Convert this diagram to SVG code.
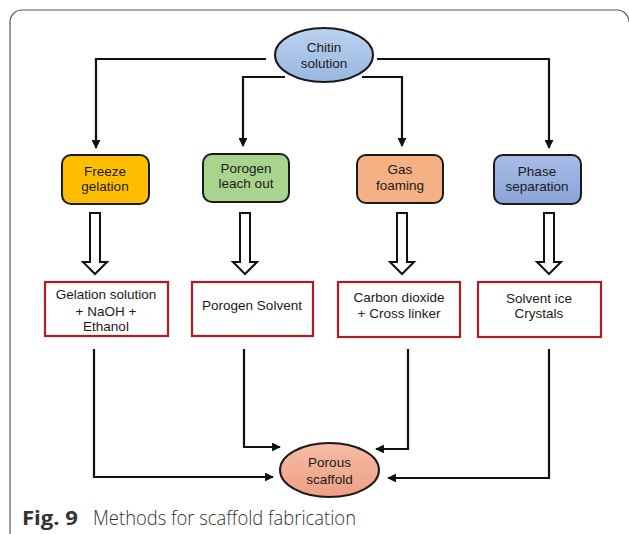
<svg xmlns="http://www.w3.org/2000/svg" width="629" height="534" viewBox="0 0 629 534">
<style>
.t{font-family:"Liberation Sans",Arial,sans-serif;font-size:13.5px;fill:#1a1a1a;text-anchor:middle}
.proc{stroke:#1a1a1a;stroke-width:2}
.res{fill:#fff;stroke:#b01c22;stroke-width:2.2}
.hol{fill:#fff;stroke:#111;stroke-width:2;stroke-linejoin:miter}
.con{fill:none;stroke:#111;stroke-width:2.2}
.cap{font-family:"Open Sans","Liberation Sans",sans-serif;font-size:20px;fill:#333}
</style>
<defs>
<marker id="ah" viewBox="0 0 10 10" refX="9" refY="5" markerWidth="4" markerHeight="4" markerUnits="strokeWidth" orient="auto">
<path d="M0,0 L10,5 L0,10 Z" fill="#111"/>
</marker>
<linearGradient id="gBlue" x1="0" y1="0" x2="0" y2="1"><stop offset="0" stop-color="#bcd2ef"/><stop offset="1" stop-color="#98b7e2"/></linearGradient>
<linearGradient id="gPhase" x1="0" y1="0" x2="0" y2="1"><stop offset="0" stop-color="#a9bce6"/><stop offset="1" stop-color="#8ba3d9"/></linearGradient>
<linearGradient id="gPor" x1="0" y1="0" x2="0" y2="1"><stop offset="0" stop-color="#f6bca6"/><stop offset="1" stop-color="#ee9f85"/></linearGradient>
</defs>
<rect width="629" height="534" fill="#fff"/>
<path d="M10,534 V22 A12,12 0 0 1 22,10 H617 A12,12 0 0 1 629,22" fill="none" stroke="#555" stroke-width="1.2"/>

<g id="connectors">
<path class="con" d="M266,59 H96 V148" marker-end="url(#ah)"/>
<path class="con" d="M285,77 H243 V146" marker-end="url(#ah)"/>
<path class="con" d="M362,77 H402 V146" marker-end="url(#ah)"/>
<path class="con" d="M377,59 H549 V148" marker-end="url(#ah)"/>
<polygon class="hol" points="90,213 100,213 100,262 107,262 95,274 83,262 90,262"/>
<polygon class="hol" points="240,213 250,213 250,262 257,262 245,274 233,262 240,262"/>
<polygon class="hol" points="397,213 407,213 407,262 414,262 402,274 390,262 397,262"/>
<polygon class="hol" points="544,213 554,213 554,262 561,262 549,274 537,262 544,262"/>
<path class="con" d="M94,349 V477 H273" marker-end="url(#ah)"/>
<path class="con" d="M244,349 V447 H280" marker-end="url(#ah)"/>
<path class="con" d="M408,349 V449 H376" marker-end="url(#ah)"/>
<path class="con" d="M549,349 V478 H388" marker-end="url(#ah)"/>
</g>

<g id="chitin">
<ellipse cx="324" cy="55" rx="49" ry="27" fill="url(#gBlue)" stroke="#1a1a1a" stroke-width="2"/>
<text class="t" x="324" y="52">Chitin</text>
<text class="t" x="324" y="68">solution</text>
</g>

<g id="freeze">
<rect class="proc" x="62" y="155" width="87" height="49" rx="9" fill="#ffbf00"/>
<text class="t" x="105" y="176">Freeze</text>
<text class="t" x="105" y="191">gelation</text>
</g>
<g id="porogen">
<rect class="proc" x="203" y="154" width="86" height="48" rx="9" fill="#a8d48e"/>
<text class="t" x="246" y="173">Porogen</text>
<text class="t" x="246" y="188">leach out</text>
</g>
<g id="gas">
<rect class="proc" x="357" y="155" width="86" height="48" rx="9" fill="#f4b183"/>
<text class="t" x="400" y="174">Gas</text>
<text class="t" x="400" y="190">foaming</text>
</g>
<g id="phase">
<rect class="proc" x="494" y="155" width="87" height="49" rx="9" fill="url(#gPhase)"/>
<text class="t" x="537" y="176">Phase</text>
<text class="t" x="537" y="191">separation</text>
</g>

<g id="res-gelation">
<rect class="res" x="45" y="282" width="123" height="54"/>
<text class="t" x="106" y="299">Gelation solution</text>
<text class="t" x="106" y="316">+ NaOH +</text>
<text class="t" x="106" y="331">Ethanol</text>
</g>
<g id="res-porogen">
<rect class="res" x="192" y="282" width="121" height="54"/>
<text class="t" x="252" y="310">Porogen Solvent</text>
</g>
<g id="res-carbon">
<rect class="res" x="338" y="282" width="122" height="55"/>
<text class="t" x="399" y="302">Carbon dioxide</text>
<text class="t" x="399" y="318">+ Cross linker</text>
</g>
<g id="res-solvent">
<rect class="res" x="478" y="282" width="123" height="55"/>
<text class="t" x="539" y="303">Solvent ice</text>
<text class="t" x="539" y="318">Crystals</text>
</g>

<g id="porous">
<ellipse cx="329.5" cy="470" rx="49.5" ry="27" fill="url(#gPor)" stroke="#1a1a1a" stroke-width="2"/>
<text class="t" x="329.5" y="467">Porous</text>
<text class="t" x="329.5" y="484">scaffold</text>
</g>

<g id="caption">
<text class="cap" x="22" y="525" font-weight="bold" textLength="56" lengthAdjust="spacingAndGlyphs">Fig. 9</text>
<text class="cap" x="93" y="525" font-weight="300" textLength="263" lengthAdjust="spacingAndGlyphs">Methods for scaffold fabrication</text>
</g>
</svg>
